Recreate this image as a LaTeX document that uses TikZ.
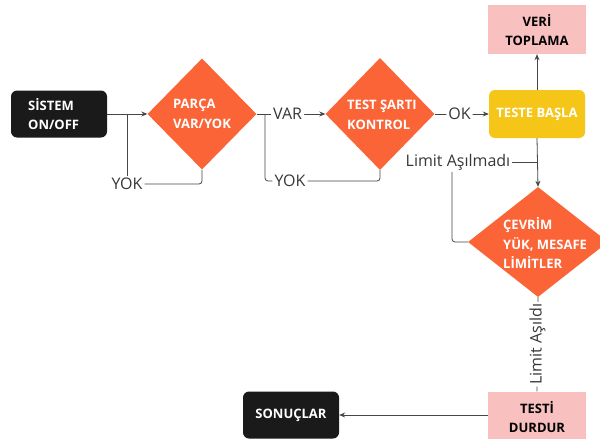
\documentclass[tikz,border=0pt]{standalone}
\usepackage{fontspec}
\setmainfont{Open Sans}
\usetikzlibrary{shapes.geometric,arrows.meta}
\definecolor{dorange}{RGB}{250,100,55}
\definecolor{byellow}{RGB}{245,197,24}
\definecolor{bpink}{RGB}{249,192,192}
\definecolor{bblack}{RGB}{26,26,26}
\definecolor{lgray}{RGB}{70,70,70}
\definecolor{tgray}{RGB}{55,55,55}
\tikzset{
  blackbox/.style={draw=none,fill=bblack,rounded corners=6pt,minimum width=96pt,minimum height=47pt,inner sep=0pt},
  yellowbox/.style={draw=none,fill=byellow,rounded corners=6pt,minimum width=96pt,minimum height=48pt,inner sep=0pt},
  pinkbox/.style={draw=none,fill=bpink,minimum width=98pt,minimum height=47pt,inner sep=0pt},
  dia/.style={diamond,fill=dorange,draw=none,inner sep=0pt},
  btxt/.style={font=\fontsize{13}{19.5}\selectfont\bfseries,inner sep=0pt},
  lbl/.style={font=\fontsize{16}{18}\selectfont,text=tgray,fill=white,inner sep=2pt},
  conn/.style={draw=lgray,line width=0.8pt,rounded corners=3pt},
  arr/.style={conn,-{Stealth[length=6pt,width=5pt]}}
}
\begin{document}
\begin{tikzpicture}[x=1pt,y=-1pt]
\clip (0,0) rectangle (600,439);
\fill[white] (0,0) rectangle (600,439);
% nodes
\node[blackbox] (sis) at (59,114) {};
\node[btxt,text=white,align=left,anchor=west] (sist) at (28,114) {SİSTEM\\ON/OFF};
\node[dia,minimum width=109pt,minimum height=111pt] (par) at (202,114) {};
\node[btxt,text=white,align=left,anchor=west] (part) at (173,114) {PARÇA\\VAR/YOK};
\node[dia,minimum width=109pt,minimum height=112pt] (tst) at (380,114) {};
\node[btxt,text=white,align=left,anchor=west] (tstt) at (347,115) {TEST ŞARTI\\KONTROL};
\node[yellowbox] (tb) at (537,114) {};
\node[btxt,text=white] (tbt) at (537,114) {TESTE BAŞLA};
\node[pinkbox,minimum height=49pt] (veri) at (537,29.5) {};
\node[btxt,text=black,align=center] (verit) at (537,30) {VERİ\\TOPLAMA};
\node[dia,minimum width=140pt,minimum height=110pt] (cev) at (538,242) {};
\node[btxt,text=white,align=left,anchor=west] (cevt) at (503,243) {ÇEVRİM\\YÜK, MESAFE\\LİMİTLER};
\node[pinkbox] (td) at (537,415) {};
\node[btxt,text=black,align=center] (tdt) at (537,417) {TESTİ\\DURDUR};
\node[blackbox] (son) at (291,415) {};
\node[btxt,text=white] (sont) at (291,415) {SONUÇLAR};
% labels
\node[lbl] (yok1) at (127,184) {YOK};
\node[lbl] (yok2) at (290,181) {YOK};
\node[lbl] (lim) at (458,162) {Limit Aşılmadı};
\coordinate (j1) at (127,114);
\coordinate (j2) at (265,114);
% connectors
\draw[arr] (sis.east) -- (par.west);
\draw[conn] (par.south) |- (yok1.east);
\draw[conn] (yok1.north) -- (j1);
\draw[arr] (par.east) -- node[lbl,pos=0.45] (var) {VAR} (tst.west);
\draw[conn] (tst.south) |- (yok2.east);
\draw[conn] (yok2.west) -| (j2);
\draw[arr] (tst.east) -- node[lbl,pos=0.46] (ok) {OK} (tb.west);
\draw[arr] (tb.north) -- (veri.south);
\draw[arr] (tb.south) -- (cev.north);
\draw[conn] (cev.west) -| ([xshift=-6pt]lim.south);
\draw[conn] (lim.east) -- (lim.east -| tb.south);
\draw[conn] (cev.south) -- node[lbl,midway,rotate=90] (asl) {Limit Aşıldı} (td.north);
\draw[arr] (td.west) -- (son.east);
\end{tikzpicture}
\end{document}
